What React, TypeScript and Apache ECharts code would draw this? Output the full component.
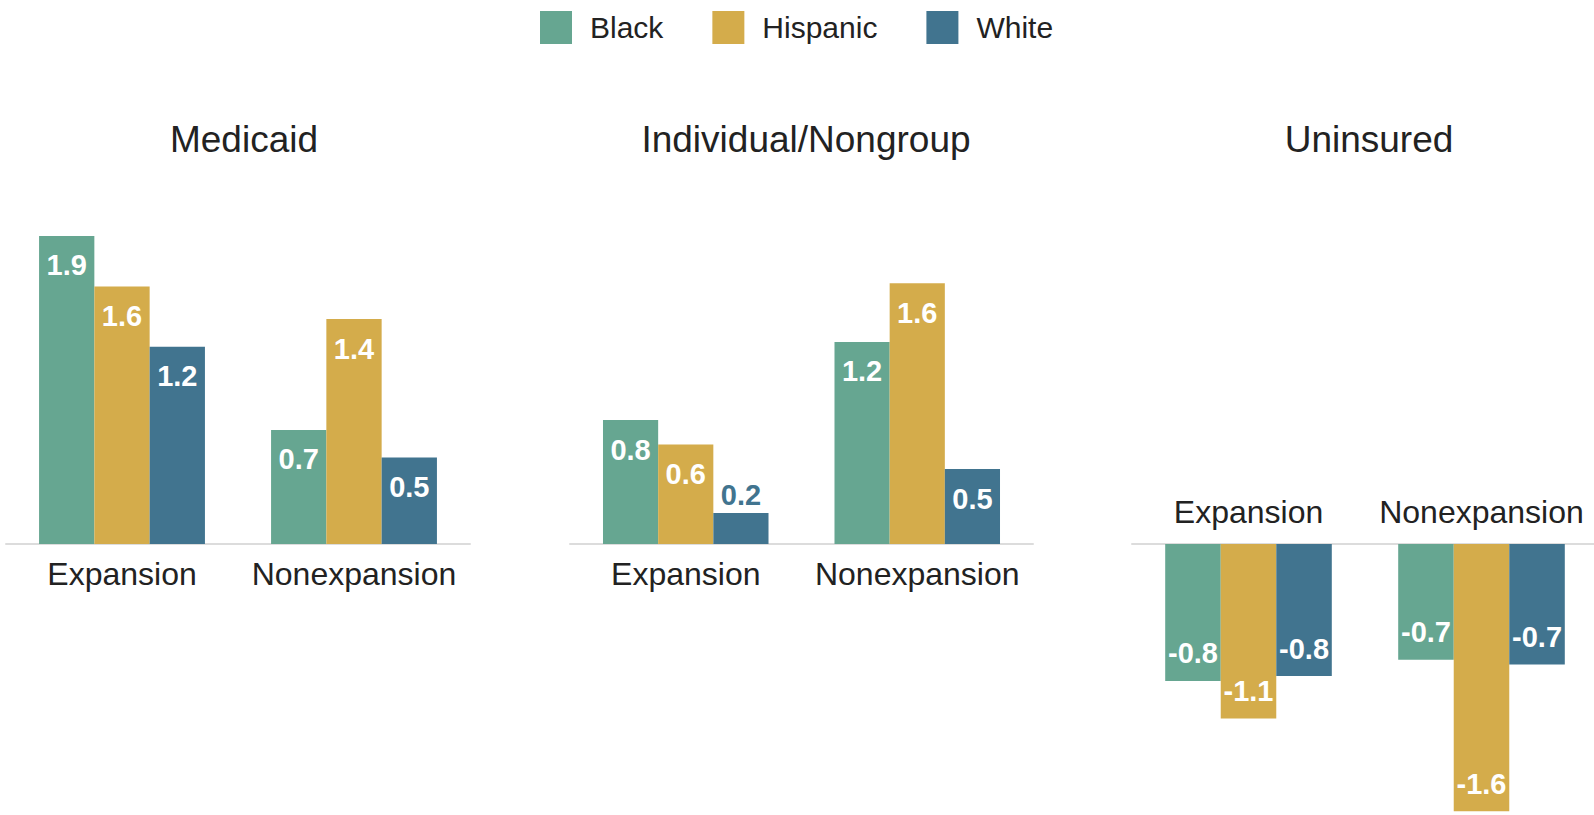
import React, { useEffect, useRef } from "react";
import * as echarts from "echarts";

const categories = ["Expansion", "Nonexpansion"];
const groupNames = ["Black", "Hispanic", "White"];
const groupColors = ["#66A691", "#D4AC4B", "#41748F"];
const panelTitles = ["Medicaid", "Individual/Nongroup", "Uninsured"];

const medicaidBlack = [1.89, 0.7];
const medicaidHispanic = [1.58, 1.38];
const medicaidWhite = [1.21, 0.53];

const nongroupBlack = [0.76, 1.24];
const nongroupHispanic = [0.61, 1.6];
const nongroupWhite = [0.19, 0.46];

const uninsuredBlack = [-0.84, -0.71];
const uninsuredHispanic = [-1.07, -1.64];
const uninsuredWhite = [-0.81, -0.74];

const panelData = [
  [medicaidBlack, medicaidHispanic, medicaidWhite],
  [nongroupBlack, nongroupHispanic, nongroupWhite],
  [uninsuredBlack, uninsuredHispanic, uninsuredWhite],
];

const FONT = "'Liberation Sans', Arial, Helvetica, sans-serif";

export default function App() {
  const ref = useRef<HTMLDivElement>(null);
  useEffect(() => {
    if (!ref.current) return;
    const chart = echarts.init(ref.current, undefined, { renderer: "svg" });
    const pxPerUnit = 163;
    const base = 544;
    const grids = [
      { left: 6, width: 464, top: base - 2 * pxPerUnit, height: 2 * pxPerUnit },
      { left: 570, width: 463, top: base - 2 * pxPerUnit, height: 2 * pxPerUnit },
      { left: 1132, width: 466, top: base, height: 1.7 * pxPerUnit },
    ];
    const titleX = [244, 806, 1369];

    const series: any[] = [];
    panelData.forEach((groups, gi) => {
      groups.forEach((vals, si) => {
        series.push({
          type: "bar",
          name: groupNames[si],
          xAxisIndex: gi,
          yAxisIndex: gi,
          barGap: "0%",
          barCategoryGap: "28.5%",
          itemStyle: { color: groupColors[si] },
          label: {
            show: true,
            position: gi === 2 ? "insideBottom" : "insideTop",
            distance: gi === 2 ? 13 : 15,
            color: "#ffffff",
            fontSize: 29,
            fontWeight: "bold",
            fontFamily: FONT,
            formatter: (p: any) => Number(p.value).toFixed(1),
          },
          data: vals.map((v) =>
            Math.abs(v) < 0.3
              ? {
                  value: v,
                  label: { position: "top", distance: 4, color: groupColors[si] },
                }
              : v
          ),
        });
      });
    });

    chart.setOption({
      animation: false,
      backgroundColor: "#ffffff",
      legend: {
        left: 535,
        top: 6,
        itemWidth: 32,
        itemHeight: 33,
        itemGap: 49,
        icon: "rect",
        data: groupNames,
        textStyle: {
          fontSize: 30,
          color: "#222222",
          fontFamily: FONT,
          padding: [0, 0, 0, 13],
        },
      },
      graphic: panelTitles.map((t, i) => ({
        type: "text",
        x: titleX[i],
        y: 139,
        style: {
          text: t,
          fontSize: 37,
          fill: "#222222",
          fontFamily: FONT,
          textAlign: "center",
          textVerticalAlign: "middle",
        },
      })),
      grid: grids,
      xAxis: grids.map((_, i) => ({
        type: "category",
        gridIndex: i,
        data: categories,
        position: i === 2 ? "top" : "bottom",
        axisTick: { show: false },
        axisLine: { onZero: false, lineStyle: { color: "#dcdcdc", width: 2 } },
        axisLabel: {
          interval: 0,
          fontSize: 32,
          color: "#222222",
          fontFamily: FONT,
          margin: i === 2 ? 16 : 14,
        },
      })),
      yAxis: grids.map((_, i) => ({
        type: "value",
        gridIndex: i,
        min: i === 2 ? -1.7 : 0,
        max: i === 2 ? 0 : 2,
        show: false,
        splitLine: { show: false },
      })),
      series,
    });
    return () => chart.dispose();
  }, []);
  return (
    <div
      ref={ref}
      style={{ position: "fixed", left: 0, top: 0, width: 1600, height: 830 }}
    />
  );
}
